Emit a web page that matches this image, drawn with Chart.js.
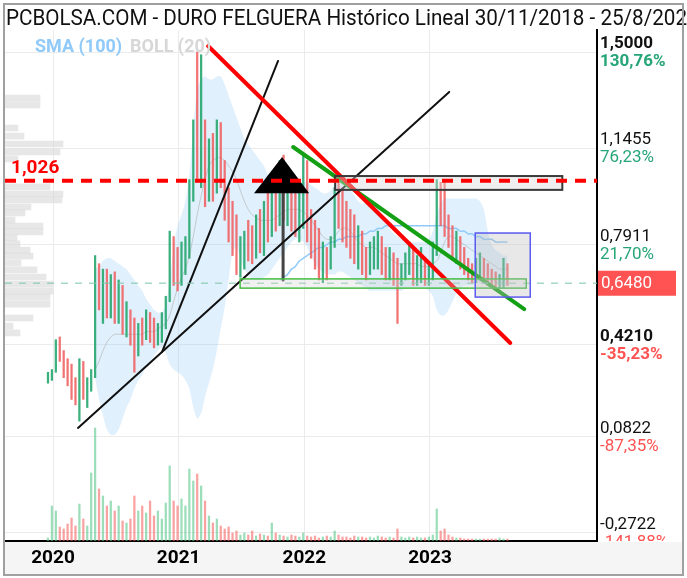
<!DOCTYPE html>
<html>
<head>
<meta charset="utf-8">
<script src="https://cdn.jsdelivr.net/npm/chart.js@4.4.0/dist/chart.umd.min.js"></script>
<style>
  html, body { margin: 0; padding: 0; background: #fff; }
  #wrap { width: 687px; height: 578px; }
</style>
</head>
<body>
<div id="wrap"><canvas id="chart" width="687" height="578"></canvas></div>
<script>
// sampling: one bar every 1/32 year starting at startYear
const startYear = 2019.96;
const stepYears = 1 / 32;

const highs = [
  0.32,0.33,0.44,0.45,0.40,0.37,0.35,0.30,0.37,0.36,0.30,0.33,
  0.75,0.72,0.70,0.70,0.68,0.69,0.66,0.64,0.58,0.55,0.52,0.50,
  0.52,0.55,0.54,0.52,0.50,0.54,0.60,0.84,0.82,0.78,0.80,0.82,
  1.03,1.25,1.50,1.49,1.25,1.18,1.20,1.25,1.24,1.10,1.00,0.95,
  0.90,0.82,0.84,0.88,0.86,0.90,0.92,0.95,0.98,1.05,1.00,1.10,
  1.12,1.05,1.02,1.00,0.98,1.12,1.10,0.92,0.88,0.85,0.80,0.78,
  0.82,1.00,1.04,1.00,0.95,0.92,0.90,0.86,0.84,0.78,0.80,0.82,
  0.84,0.82,0.78,0.78,0.76,0.74,0.72,0.76,0.80,0.78,0.75,0.78,
  0.74,0.72,0.80,1.03,1.02,1.03,0.90,0.86,0.84,0.82,0.78,0.74,
  0.72,0.74,0.76,0.74,0.72,0.70,0.69,0.68,0.74,0.72
];
const lows = [
  0.28,0.29,0.32,0.36,0.30,0.27,0.22,0.20,0.14,0.22,0.19,0.25,
  0.30,0.55,0.50,0.52,0.52,0.50,0.50,0.46,0.45,0.42,0.32,0.38,
  0.42,0.44,0.43,0.41,0.42,0.43,0.48,0.58,0.64,0.62,0.64,0.68,
  0.74,0.95,1.02,1.00,0.93,0.95,0.95,0.98,1.00,0.88,0.80,0.75,
  0.68,0.67,0.70,0.73,0.72,0.74,0.76,0.75,0.80,0.82,0.84,0.86,
  0.88,0.86,0.84,0.82,0.80,0.85,0.80,0.74,0.70,0.66,0.65,0.66,
  0.70,0.78,0.85,0.80,0.78,0.74,0.72,0.70,0.68,0.66,0.68,0.70,
  0.70,0.68,0.66,0.66,0.64,0.50,0.64,0.66,0.68,0.64,0.64,0.65,
  0.64,0.64,0.66,0.75,0.86,0.82,0.78,0.74,0.72,0.70,0.68,0.66,
  0.65,0.65,0.66,0.65,0.64,0.64,0.63,0.63,0.63,0.64
];
const closes = [
  0.30,0.31,0.40,0.38,0.33,0.30,0.26,0.22,0.33,0.25,0.27,0.31,
  0.68,0.62,0.66,0.58,0.64,0.55,0.60,0.50,0.52,0.47,0.40,0.47,
  0.44,0.51,0.46,0.44,0.47,0.52,0.57,0.78,0.70,0.66,0.76,0.78,
  0.98,1.18,1.10,1.15,1.05,1.10,1.00,1.18,1.05,0.93,0.85,0.80,
  0.72,0.74,0.80,0.78,0.76,0.86,0.80,0.90,0.85,0.98,0.90,0.95,
  0.92,0.98,0.90,0.86,0.90,0.95,0.84,0.78,0.76,0.72,0.76,0.70,
  0.80,0.95,0.90,0.86,0.82,0.80,0.75,0.78,0.72,0.70,0.75,0.78,
  0.80,0.72,0.70,0.72,0.68,0.66,0.68,0.73,0.74,0.69,0.70,0.72,
  0.68,0.70,0.76,0.95,0.92,0.86,0.82,0.78,0.80,0.74,0.71,0.70,
  0.68,0.70,0.72,0.68,0.67,0.66,0.65,0.66,0.70,0.648
];
const volumes = [
  3,35,30,14,12,17,23,15,37,22,15,68,
  113,52,45,35,40,30,35,20,18,22,45,30,
  35,28,40,25,30,22,38,75,40,35,42,35,
  72,60,67,55,40,25,18,22,15,12,14,8,
  10,6,8,6,10,5,7,6,5,18,8,6,
  5,4,6,5,4,8,5,4,5,3,4,5,
  4,10,6,4,4,3,5,4,4,3,4,3,
  5,4,3,4,3,12,4,3,4,3,4,3,
  3,4,6,32,10,12,6,4,3,3,2,2,
  2,2,2,2,2,2,2,3,2,2
];
const N = null;
const bollUpper = [
  N,N,N,N,N,N,N,N,N,N,N,N,
  0.70,0.71,0.73,0.74,0.74,0.73,0.72,0.71,0.70,0.68,0.66,0.64,
  0.62,0.59,0.57,0.55,0.54,0.54,0.57,0.66,0.78,0.86,0.90,0.95,
  1.05,1.22,1.36,1.40,1.41,1.40,1.40,1.41,1.41,1.38,1.34,1.30,
  1.26,1.22,1.18,1.16,1.14,1.12,1.10,1.08,1.05,1.03,1.03,1.03,
  1.03,1.03,1.03,1.02,1.02,1.02,1.02,1.01,1.00,0.99,0.98,0.98,
  0.99,1.01,1.02,1.02,1.01,0.99,0.97,0.95,0.94,0.95,0.96,0.95,
  0.93,0.90,0.87,0.85,0.83,0.82,0.81,0.81,0.80,0.80,0.80,0.80,
  0.80,0.81,0.84,0.90,0.94,0.96,0.96,0.96,0.96,0.96,0.96,0.96,
  0.96,0.96,0.95,0.92,0.84,0.79,0.77,0.76,0.75,0.75
];
const bollLower = [
  N,N,N,N,N,N,N,N,N,N,N,N,
  0.30,0.22,0.16,0.11,0.09,0.09,0.11,0.15,0.19,0.22,0.26,0.29,
  0.31,0.34,0.36,0.38,0.40,0.41,0.39,0.35,0.33,0.32,0.31,0.29,
  0.26,0.19,0.15,0.17,0.23,0.28,0.33,0.40,0.48,0.56,0.66,0.76,
  0.78,0.74,0.70,0.68,0.66,0.66,0.66,0.67,0.68,0.70,0.72,0.74,
  0.76,0.78,0.80,0.81,0.81,0.80,0.78,0.75,0.72,0.70,0.69,0.68,
  0.68,0.68,0.69,0.69,0.68,0.67,0.66,0.65,0.64,0.63,0.62,0.62,
  0.62,0.62,0.62,0.62,0.62,0.62,0.62,0.63,0.63,0.63,0.63,0.63,
  0.63,0.62,0.60,0.55,0.53,0.53,0.55,0.58,0.61,0.63,0.64,0.64,
  0.64,0.65,0.65,0.65,0.65,0.65,0.65,0.64,0.64,0.64
];
const bollMid = [
  N,N,N,N,N,N,N,N,N,N,N,N,
  0.33,0.36,0.40,0.43,0.45,0.46,0.46,0.46,0.46,0.46,0.46,0.46,
  0.46,0.47,0.47,0.47,0.48,0.49,0.50,0.53,0.58,0.63,0.67,0.70,
  0.75,0.82,0.90,0.97,1.03,1.08,1.10,1.11,1.11,1.10,1.08,1.06,
  1.03,0.99,0.95,0.92,0.90,0.89,0.88,0.88,0.88,0.88,0.89,0.90,
  0.91,0.92,0.92,0.92,0.92,0.91,0.90,0.88,0.86,0.84,0.82,0.81,
  0.81,0.82,0.84,0.85,0.85,0.84,0.82,0.80,0.79,0.78,0.78,0.78,
  0.77,0.76,0.75,0.74,0.73,0.72,0.72,0.72,0.72,0.72,0.72,0.71,
  0.71,0.71,0.72,0.73,0.76,0.80,0.82,0.82,0.81,0.80,0.79,0.78,
  0.77,0.76,0.75,0.74,0.73,0.72,0.71,0.70,0.70,0.70
];
const sma100 = [
  N,N,N,N,N,N,N,N,N,N,N,N,
  N,N,N,N,N,N,N,N,N,N,N,N,
  N,N,N,N,N,N,N,N,N,N,N,N,
  N,N,N,N,N,N,N,N,N,N,N,N,
  N,N,N,N,N,N,N,N,N,N,N,0.66,
  0.67,0.68,0.70,0.71,0.73,0.74,0.75,0.76,0.77,0.78,0.78,0.79,
  0.80,0.80,0.81,0.81,0.82,0.82,0.82,0.82,0.83,0.83,0.84,0.84,
  0.85,0.85,0.86,0.86,0.86,0.86,0.86,0.86,0.86,0.86,0.86,0.86,
  0.86,0.86,0.86,0.86,0.86,0.86,0.85,0.85,0.85,0.84,0.84,0.83,
  0.83,0.82,0.82,0.81,0.81,0.81,0.80,0.80,0.80,0.80
];

// volume profile on the left (price level, volume)
const profilePrices = [1.330,1.305,1.220,1.190,1.161,1.132,1.106,1.003,0.977,0.955,0.929,0.907,0.881,0.859,0.837,0.815,0.793,0.770,0.748,0.723,0.697,0.671,0.645,0.619,0.597,0.571,0.520,0.490,0.465];
const profileVolumes = [35,35,13,19,58,55,13,45,58,57,26,20,10,38,38,12,15,25,28,16,32,41,48,48,45,45,28,8,15];

const yearTicks = [2020, 2021, 2022, 2023];
const priceTicks = [1.5, 1.1455, 0.7911, 0.421, 0.0822, -0.2722];
const priceTickLabels = ['1,5000', '1,1455', '0,7911', '0,4210', '0,0822', '-0,2722'];
const percentLabels = ['130,76%', '76,23%', '21,70%', '-35,23%', '-87,35%', '-141,88%'];
const boldTicks = [true, false, false, true, false, false];
const lastPrice = 0.648;
const lastPriceLabel = '0,6480';
const resistance = 1.026;
const resistanceLabel = '1,026';
const titleText = 'PCBOLSA.COM - DURO FELGUERA Histórico Lineal 30/11/2018 - 25/8/2023';

// drawn trend lines [year, price]
const trendRed = [[2021.234, 1.522], [2023.639, 0.428]];
const trendGreen = [[2021.911, 1.150], [2023.750, 0.553]];
const trendBlackLong = [[2020.199, 0.115], [2023.153, 1.353]];
const trendBlackSteep = [[2020.868, 0.395], [2021.791, 1.467]];
const arrowShaft = [[2021.831, 0.980], [2021.831, 0.660]];
const triangle = [[2021.823, 1.113], [2021.600, 0.980], [2022.038, 0.980]];
const boxGray = [2022.245, 2024.053, 1.043, 0.992];
const boxGreen = [2021.489, 2023.766, 0.664, 0.630];
const boxBlue = [2023.360, 2023.798, 0.833, 0.597];

const xs = closes.map((c, i) => startYear + i * stepYears);
const isUp = closes.map((c, i) => c >= (i > 0 ? closes[i - 1] : c));
const candleColors = isUp.map(u => u ? 'rgba(38,166,110,0.9)' : 'rgba(240,90,90,0.85)');
const volColors = isUp.map(u => u ? 'rgba(90,200,140,0.6)' : 'rgba(245,100,100,0.6)');

const series = arr => xs.map((x, i) => ({ x: x, y: arr[i] }));
const segment = pts => pts.map(p => ({ x: p[0], y: p[1] }));

const lineDs = (pts, color, width, order) => ({
  type: 'line', data: segment(pts), borderColor: color, borderWidth: width,
  pointRadius: 0, fill: false, order: order, borderCapStyle: 'round'
});

const decor = {
  id: 'decor',
  beforeDraw(chart) {
    const ctx = chart.ctx;
    ctx.save();
    ctx.fillStyle = '#fff';
    ctx.fillRect(0, 0, chart.width, chart.height);
    ctx.fillStyle = 'rgb(245,245,245)';
    ctx.fillRect(5, 542, 678, 33);
    ctx.restore();
  },
  afterDatasetsDraw(chart) {
    const ctx = chart.ctx;
    const a = chart.chartArea;
    const X = v => chart.scales.x.getPixelForValue(v);
    const Y = v => chart.scales.y.getPixelForValue(v);
    ctx.save();
    ctx.beginPath();
    ctx.rect(a.left, a.top, a.right - a.left, a.bottom - a.top);
    ctx.clip();

    // last price dashed line
    ctx.strokeStyle = 'rgba(130,200,170,0.7)';
    ctx.lineWidth = 1.5;
    ctx.setLineDash([7, 7]);
    ctx.beginPath();
    ctx.moveTo(a.left, Y(lastPrice));
    ctx.lineTo(a.right, Y(lastPrice));
    ctx.stroke();
    ctx.setLineDash([]);

    const box = (b, fill, stroke, w) => {
      const x0 = X(b[0]), x1 = X(b[1]), y0 = Y(b[2]), y1 = Y(b[3]);
      ctx.fillStyle = fill;
      ctx.fillRect(x0, y0, x1 - x0, y1 - y0);
      ctx.strokeStyle = stroke;
      ctx.lineWidth = w;
      ctx.strokeRect(x0, y0, x1 - x0, y1 - y0);
    };
    box(boxGreen, 'rgba(210,210,210,0.3)', 'rgb(70,190,70)', 1.5);
    box(boxBlue, 'rgba(190,190,190,0.35)', 'rgb(90,90,240)', 1.5);
    box(boxGray, 'rgba(215,215,215,0.4)', '#3a3a3a', 2);

    // triangle marker
    ctx.fillStyle = '#000';
    ctx.beginPath();
    triangle.forEach((p, i) => {
      if (i === 0) ctx.moveTo(X(p[0]), Y(p[1]));
      else ctx.lineTo(X(p[0]), Y(p[1]));
    });
    ctx.closePath();
    ctx.fill();

    // resistance line
    ctx.strokeStyle = 'rgb(255,0,0)';
    ctx.lineWidth = 4;
    ctx.setLineDash([11, 8]);
    ctx.beginPath();
    ctx.moveTo(a.left, Y(resistance));
    ctx.lineTo(a.right, Y(resistance));
    ctx.stroke();
    ctx.setLineDash([]);
    ctx.restore();
  },
  afterDraw(chart) {
    const ctx = chart.ctx;
    const Y = v => chart.scales.y.getPixelForValue(v);
    ctx.save();
    ctx.textBaseline = 'alphabetic';
    ctx.textAlign = 'left';

    // title, squeezed to the condensed width of the original
    ctx.fillStyle = '#111';
    ctx.font = '22px Roboto';
    const partW = ctx.measureText('PCBOLSA.COM - DURO FELGUERA Histórico Lineal 30/11/2018 - 25/8/202').width;
    ctx.save();
    ctx.translate(6, 25);
    ctx.scale(681 / partW, 1);
    ctx.fillText(titleText, 0, 0);
    ctx.restore();

    // legend
    ctx.textBaseline = 'middle';
    ctx.font = 'bold 18px Roboto';
    ctx.fillStyle = 'rgb(144,202,249)';
    ctx.fillText('SMA (100)', 35, 47);
    ctx.fillStyle = 'rgb(215,215,215)';
    ctx.fillText('BOLL (20)', 130, 47);

    // resistance label
    ctx.font = 'bold 19px Roboto';
    ctx.fillStyle = 'rgb(255,0,0)';
    ctx.fillText(resistanceLabel, 11, Y(resistance) - 12);

    // right axis labels
    ctx.save();
    ctx.beginPath();
    ctx.rect(598, 30, 85, 511);
    ctx.clip();
    priceTicks.forEach((v, i) => {
      const y = Y(v);
      const wt = boldTicks[i] ? 'bold ' : '';
      ctx.font = wt + '17px Roboto';
      ctx.fillStyle = '#111';
      ctx.fillText(priceTickLabels[i], 600, y - 8);
      ctx.fillStyle = v >= 0.65 ? 'rgb(38,166,120)' : 'rgb(255,82,82)';
      ctx.fillText(percentLabels[i], 600, y + 10);
    });
    ctx.restore();

    // last price box
    const yl = Y(lastPrice);
    ctx.fillStyle = 'rgb(255,82,82)';
    ctx.fillRect(598, yl - 12.5, 78, 25);
    ctx.fillStyle = '#fff';
    ctx.font = '17px Roboto';
    ctx.fillText(lastPriceLabel, 601, yl + 1);

    // frame
    ctx.strokeStyle = 'rgb(160,160,160)';
    ctx.lineWidth = 2;
    ctx.strokeRect(4, 4, 679, 571);
    ctx.restore();
  }
};

const config = {
  data: {
    datasets: [
      lineDs(trendRed, 'rgb(255,0,0)', 4, 0),
      lineDs(trendGreen, 'rgb(20,160,20)', 4, 0),
      lineDs(trendBlackLong, '#111', 2, 0),
      lineDs(trendBlackSteep, '#111', 2, 0),
      lineDs(arrowShaft, '#444', 3, 0),
      {
        type: 'bar', data: xs.map((x, i) => ({ x: x, y: [lows[i], highs[i]] })),
        backgroundColor: candleColors, barThickness: 1.6, grouped: false, order: 1
      },
      {
        type: 'bar', yAxisID: 'yv', data: series(volumes),
        backgroundColor: volColors, barThickness: 1.6, grouped: false, order: 2
      },
      {
        type: 'line', data: series(sma100), borderColor: 'rgb(144,202,249)', borderWidth: 1.5,
        pointRadius: 0, fill: false, tension: 0.3, order: 3
      },
      {
        type: 'line', data: series(bollMid), borderColor: 'rgba(175,175,175,0.6)', borderWidth: 1,
        pointRadius: 0, fill: false, tension: 0.3, order: 4
      },
      {
        type: 'line', data: series(bollUpper), borderWidth: 0, borderColor: 'rgba(0,0,0,0)',
        pointRadius: 0, fill: '+1', backgroundColor: 'rgba(144,202,249,0.28)', tension: 0.3, order: 5
      },
      {
        type: 'line', data: series(bollLower), borderWidth: 0, borderColor: 'rgba(0,0,0,0)',
        pointRadius: 0, fill: false, tension: 0.3, order: 5
      },
      {
        type: 'bar', indexAxis: 'y', xAxisID: 'xp', yAxisID: 'y',
        data: profilePrices.map((p, i) => ({ x: profileVolumes[i], y: p })),
        backgroundColor: 'rgba(215,215,215,0.6)', barThickness: 6, grouped: false, order: 9
      }
    ]
  },
  options: {
    responsive: false,
    animation: false,
    events: [],
    layout: { padding: { left: 5, top: 30, right: 4, bottom: 3 } },
    plugins: { legend: { display: false }, tooltip: { enabled: false }, title: { display: false } },
    scales: {
      x: {
        type: 'linear', min: 2019.618, max: 2024.329, offset: false,
        afterBuildTicks: s => { s.ticks = yearTicks.map(v => ({ value: v })); },
        afterFit: s => { s.height = 34; },
        ticks: {
          callback: v => String(v), color: '#000', padding: 6, maxRotation: 0, autoSkip: false,
          font: { family: 'Roboto', weight: 'bold', size: 19 }
        },
        grid: { color: 'rgb(235,235,235)', drawTicks: false, offset: false },
        border: { color: '#000', width: 2 }
      },
      y: {
        type: 'linear', position: 'right', min: -0.3017, max: 1.5811, offset: false,
        afterBuildTicks: s => { s.ticks = priceTicks.map(v => ({ value: v })); },
        afterFit: s => { s.width = 86; },
        ticks: { display: false },
        grid: { color: 'rgb(235,235,235)', drawTicks: false, offset: false },
        border: { color: '#000', width: 2 }
      },
      yv: { type: 'linear', display: false, min: 0, max: 511, offset: false },
      xp: { type: 'linear', display: false, min: 0, max: 592, offset: false }
    }
  },
  plugins: [decor]
};

new Chart(document.getElementById('chart'), config);
</script>
</body>
</html>
